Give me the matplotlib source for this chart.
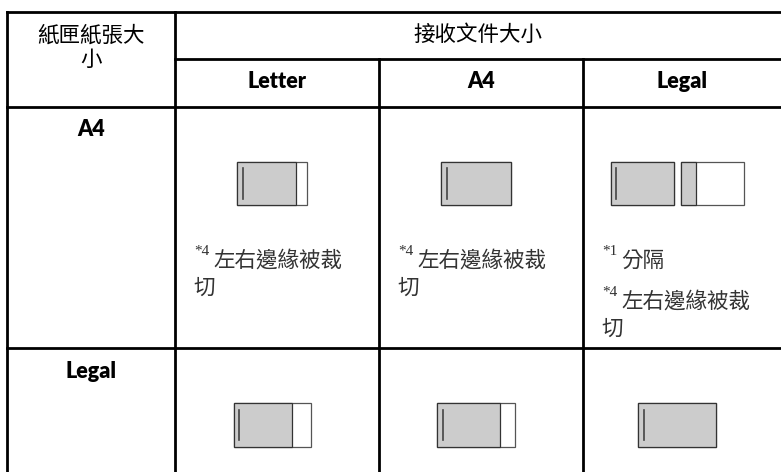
import matplotlib.pyplot as plt
from matplotlib.patches import Rectangle

plt.rcParams['font.family'] = ['Noto Sans CJK TC', 'DejaVu Sans']

# table content
corner_label = ['紙匣紙張大', '小']
group_label = '接收文件大小'
recv_sizes = ['Letter', 'A4', 'Legal']
tray_sizes = ['A4', 'Legal']

# each page in an icon: (page width relative to A4, printed fraction of the page)
icons = {
    ('A4', 'Letter'): [(1.0, 0.84)],
    ('A4', 'A4'): [(1.0, 1.0)],
    ('A4', 'Legal'): [(0.9, 1.0), (0.9, 0.24)],
    ('Legal', 'Letter'): [(1.1, 0.76)],
    ('Legal', 'A4'): [(1.11, 0.81)],
    ('Legal', 'Legal'): [(1.11, 1.0)],
}

# notes: list of (footnote mark, text lines)
notes = {
    ('A4', 'Letter'): [('*4', ['左右邊緣被裁', '切'])],
    ('A4', 'A4'): [('*4', ['左右邊緣被裁', '切'])],
    ('A4', 'Legal'): [('*1', ['分隔']), ('*4', ['左右邊緣被裁', '切'])],
}

# layout in pixels
W, H = 781, 472
col_x = [6.5, 175, 379, 583, 781]
row_y = [11.5, 59, 106.5, 348, 472]
page_w, page_h = 70, 43.6
line_c = 'black'
lw = 2.0

fig = plt.figure(figsize=(W / 100, H / 100), dpi=100)
ax = fig.add_axes([0, 0, 1, 1])
ax.set_xlim(0, W)
ax.set_ylim(H, 0)
ax.axis('off')

def hline(y, x0, x1):
    ax.plot([x0, x1], [y, y], color=line_c, lw=lw, solid_capstyle='projecting')

def vline(x, y0, y1):
    ax.plot([x, x], [y0, y1], color=line_c, lw=lw, solid_capstyle='projecting')

# grid
hline(row_y[0], col_x[0], W)
hline(row_y[1], col_x[1], W)
hline(row_y[2], col_x[0], W)
hline(row_y[3], col_x[0], W)
vline(col_x[0], row_y[0], H)
vline(col_x[1], row_y[0], H)
vline(col_x[2], row_y[1], H)
vline(col_x[3], row_y[1], H)

bold = dict(family=['Lato', 'DejaVu Sans'], fontweight='heavy', fontsize=15.5,
            ha='center', va='center', color='black')
cjk_head = dict(fontsize=15.5, ha='center', va='center', color='black')

# header
cx0 = (col_x[0] + col_x[1]) / 2
ax.text(cx0, 35.5, corner_label[0], **cjk_head)
ax.text(cx0, 60, corner_label[1], **cjk_head)
ax.text((col_x[1] + W) / 2, 34.5, group_label, **cjk_head)
for i, name in enumerate(recv_sizes):
    ax.text((col_x[i + 1] + col_x[i + 2]) / 2, 81, name, **bold)

# body rows
for r, tray in enumerate(tray_sizes):
    top = row_y[r + 2]
    ax.text(cx0, top + 23.5, tray, **bold)
    for c, recv in enumerate(recv_sizes):
        left = col_x[c + 1]
        cell_c = (col_x[c + 1] + col_x[c + 2]) / 2 - 5
        pages = icons[(tray, recv)]
        gap = 7
        total = sum(p[0] * page_w for p in pages) + gap * (len(pages) - 1)
        x = cell_c - total / 2
        y = top + 55
        for k, (pw, frac) in enumerate(pages):
            w = pw * page_w
            ax.add_patch(Rectangle((x, y), w, page_h, facecolor='white',
                                   edgecolor='#555555', lw=0.9))
            ax.add_patch(Rectangle((x, y), w * frac, page_h, facecolor='#cccccc',
                                   edgecolor='#333333', lw=0.9))
            if k == 0:
                ax.plot([x + 5.5, x + 5.5], [y + 6.5, y + page_h - 6.5],
                        color='#444444', lw=1.2)
            x += w + gap

        ty = top + 154
        for mark, lines in notes.get((tray, recv), []):
            ax.text(left + 19.5, ty - 9, mark, family=['Liberation Serif'],
                    fontsize=11, color='#333333', ha='left', va='center')
            for j, line in enumerate(lines):
                lx = left + 38.5 if j == 0 else left + 18.5
                ax.text(lx, ty + j * 27, line, fontsize=15.5, color='#333333',
                        ha='left', va='center')
            ty += 41

fig.savefig('out.png', dpi=100)
